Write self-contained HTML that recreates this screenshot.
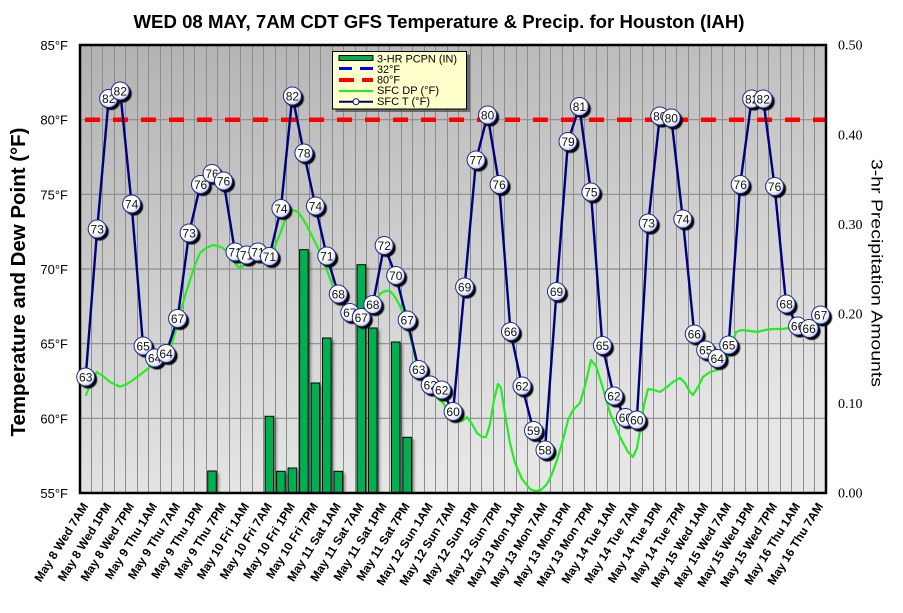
<!DOCTYPE html>
<html><head><meta charset="utf-8"><style>
html,body{margin:0;padding:0;background:#fff;}
svg{display:block;font-family:"Liberation Sans",Arial,sans-serif;}
</style></head><body>
<svg width="903" height="613" viewBox="0 0 903 613" xmlns="http://www.w3.org/2000/svg">
<defs>
<linearGradient id="pbg" x1="0" y1="0" x2="0.3" y2="1">
<stop offset="0" stop-color="#b2b2b2"/><stop offset="1" stop-color="#e6e6e6"/>
</linearGradient>
<radialGradient id="bl" cx="40%" cy="35%" r="65%">
<stop offset="0" stop-color="#ffffff"/><stop offset="0.65" stop-color="#ffffff"/><stop offset="1" stop-color="#c4cbea"/>
</radialGradient>
<filter id="blur" x="-50%" y="-50%" width="200%" height="200%"><feGaussianBlur stdDeviation="1.2"/></filter>
<filter id="blur2" x="-50%" y="-50%" width="200%" height="200%"><feGaussianBlur stdDeviation="0.5"/></filter>
<g id="ball"><circle cx="2.5" cy="2.5" r="9" fill="#000" filter="url(#blur2)"/><circle r="9" fill="url(#bl)" stroke="#1c2a8c" stroke-width="1"/></g>
</defs>

<!-- Title -->
<text x="439" y="28" text-anchor="middle" font-size="18" font-weight="bold" textLength="611" lengthAdjust="spacingAndGlyphs">WED 08 MAY, 7AM CDT GFS Temperature &amp; Precip. for Houston (IAH)</text>

<!-- plot background -->
<rect x="80" y="45" width="746" height="448" fill="url(#pbg)"/>

<!-- vertical grid -->
<path stroke="#8c8c8c" stroke-width="1" fill="none" d="M91.5 45V493M102.5 45V493M114.5 45V493M125.5 45V493M137.5 45V493M148.5 45V493M160.5 45V493M171.5 45V493M183.5 45V493M194.5 45V493M206.5 45V493M217.5 45V493M229.5 45V493M240.5 45V493M252.5 45V493M263.5 45V493M275.5 45V493M286.5 45V493M298.5 45V493M309.5 45V493M320.5 45V493M332.5 45V493M343.5 45V493M355.5 45V493M366.5 45V493M378.5 45V493M389.5 45V493M401.5 45V493M412.5 45V493M424.5 45V493M435.5 45V493M447.5 45V493M458.5 45V493M470.5 45V493M481.5 45V493M493.5 45V493M504.5 45V493M516.5 45V493M527.5 45V493M539.5 45V493M550.5 45V493M562.5 45V493M573.5 45V493M584.5 45V493M596.5 45V493M607.5 45V493M619.5 45V493M630.5 45V493M642.5 45V493M653.5 45V493M665.5 45V493M676.5 45V493M688.5 45V493M699.5 45V493M711.5 45V493M722.5 45V493M734.5 45V493M745.5 45V493M757.5 45V493M768.5 45V493M780.5 45V493M791.5 45V493M803.5 45V493M814.5 45V493"/>
<!-- horizontal grid -->
<path stroke="#8c8c8c" stroke-width="1.2" fill="none" d="M80 119.7H826M80 194.3H826M80 269H826M80 343.7H826M80 418.3H826"/>

<!-- precip bars shadows -->
<g fill="#000" opacity="0.35" filter="url(#blur)">
<rect x="210.7" y="473" width="8.6" height="20"/>
<rect x="268.1" y="418.3" width="8.6" height="74.7"/>
<rect x="279.6" y="473.3" width="8.6" height="19.7"/>
<rect x="291.1" y="470" width="8.6" height="23"/>
<rect x="302.6" y="251.7" width="8.6" height="241.3"/>
<rect x="314.1" y="385" width="8.6" height="108"/>
<rect x="325.5" y="340" width="8.6" height="153"/>
<rect x="337" y="473.3" width="8.6" height="19.7"/>
<rect x="360" y="266.7" width="8.6" height="226.3"/>
<rect x="371.5" y="330" width="8.6" height="163"/>
<rect x="394.4" y="344" width="8.6" height="149"/>
<rect x="405.9" y="439.3" width="8.6" height="53.7"/>
</g>
<!-- precip bars -->
<g fill="#00b050" stroke="#000" stroke-width="1">
<rect x="207.7" y="471" width="8.6" height="22"/>
<rect x="265.1" y="416.3" width="8.6" height="76.7"/>
<rect x="276.6" y="471.3" width="8.6" height="21.7"/>
<rect x="288.1" y="468" width="8.6" height="25"/>
<rect x="299.6" y="249.7" width="8.6" height="243.3"/>
<rect x="311.1" y="383" width="8.6" height="110"/>
<rect x="322.5" y="338" width="8.6" height="155"/>
<rect x="334" y="471.3" width="8.6" height="21.7"/>
<rect x="357" y="264.7" width="8.6" height="228.3"/>
<rect x="368.5" y="328" width="8.6" height="165"/>
<rect x="391.4" y="342" width="8.6" height="151"/>
<rect x="402.9" y="437.3" width="8.6" height="55.7"/>
</g>

<!-- 80F red dashed line -->
<line x1="85" y1="119.7" x2="826" y2="119.7" stroke="#ff0000" stroke-width="4.5" stroke-dasharray="15 13"/>

<!-- dew point -->
<polyline fill="none" stroke="#22ee22" stroke-width="2.2" stroke-linejoin="round" stroke-linecap="round" points="86,395 91,383 96.7,372 103,376 110,382 120,386.7 127,384 133,380 141,374 150,367 160,361.7 165,357 170,350 175,333 180,313 185,296 190,280 195,265 200,253 206,248 213,245 218,246 223,248 228,253 233,260 238,267 242,267 247,263 253,260 260,258 268,254 275,246 280,234 285,220 289,213 293,210 298,212 303,219 308,228 313,238 318,248 323,260 328,273 333,287 338,298 343,306 348,312 353,316 357,318 362,318 366,317 370,313 375,303 380,294 385,291 390,291 395,297 400,306 405,318 410,336 414,352 417,366 422,378 427,387 435,396 443,403 450,413 457,421 462,421 467,417 472,424 477,433 482,437 486,437 490,424 494,400 498,384 501,388 505,414 510,443 515,463 522,479 530,489 535,491 541,490 547,484 552,474 557,460 563,440 568,420 573,410 580,403 585,386 591,360 596,366 602,385 610,413 620,437 628,452 633,457 637,448 641,425 644,405 648,389 654,390 660,392 667,387 673,382 680,378 685,383 690,392 693,395 698,387 703,377 710,372 717,370 723,365 728,357 732,345 736,332 742,330 750,331 757,332 765,330 773,329 782,329 790,328 800,327 810,327 822,324"/>

<!-- temperature line -->
<polyline fill="none" stroke="#00007f" stroke-width="2.4" stroke-linejoin="round" points="85.7,377 97.2,229 108.7,98.5 120.2,91 131.6,204 143.1,346 154.6,358 166.1,353.5 177.6,318.5 189.1,233 200.5,184.5 212,173.5 223.5,181 235,252 246.5,255 257.9,252 269.4,256.5 280.9,208.5 292.4,96 303.9,153 315.4,206 326.8,256 338.3,294 349.8,312.5 361.3,317.5 372.8,304.5 384.2,245.5 395.7,275.5 407.2,320 418.7,369.5 430.2,385 441.7,390 453.1,411.5 464.6,287 476.1,160 487.6,115 499.1,184.5 510.5,331.5 522,386 533.5,430.5 545,450 556.5,291.5 568,141.5 579.4,106.5 590.9,192 602.4,345.5 613.9,396 625.4,417.5 636.8,420 648.3,223 659.8,116 671.3,118 682.8,219 694.3,334 705.7,350 717.2,358.5 728.7,345 740.2,184.5 751.7,99 763.2,99 774.6,186.5 786.1,304 797.6,326 809.1,328.5 820.6,315"/>

<!-- plot border -->
<rect x="80" y="45" width="746" height="448" fill="none" stroke="#000" stroke-width="2.5"/>

<!-- balls -->
<g font-size="12" text-anchor="middle" fill="#111">
<g transform="translate(85.7,377)"><use href="#ball"/><text y="4.3">63</text></g>
<g transform="translate(97.2,229)"><use href="#ball"/><text y="4.3">73</text></g>
<g transform="translate(108.7,98.5)"><use href="#ball"/><text y="4.3">82</text></g>
<g transform="translate(120.2,91)"><use href="#ball"/><text y="4.3">82</text></g>
<g transform="translate(131.6,204)"><use href="#ball"/><text y="4.3">74</text></g>
<g transform="translate(143.1,346)"><use href="#ball"/><text y="4.3">65</text></g>
<g transform="translate(154.6,358)"><use href="#ball"/><text y="4.3">64</text></g>
<g transform="translate(166.1,353.5)"><use href="#ball"/><text y="4.3">64</text></g>
<g transform="translate(177.6,318.5)"><use href="#ball"/><text y="4.3">67</text></g>
<g transform="translate(189.1,233)"><use href="#ball"/><text y="4.3">73</text></g>
<g transform="translate(200.5,184.5)"><use href="#ball"/><text y="4.3">76</text></g>
<g transform="translate(212,173.5)"><use href="#ball"/><text y="4.3">76</text></g>
<g transform="translate(223.5,181)"><use href="#ball"/><text y="4.3">76</text></g>
<g transform="translate(235,252)"><use href="#ball"/><text y="4.3">71</text></g>
<g transform="translate(246.5,255)"><use href="#ball"/><text y="4.3">71</text></g>
<g transform="translate(257.9,252)"><use href="#ball"/><text y="4.3">71</text></g>
<g transform="translate(269.4,256.5)"><use href="#ball"/><text y="4.3">71</text></g>
<g transform="translate(280.9,208.5)"><use href="#ball"/><text y="4.3">74</text></g>
<g transform="translate(292.4,96)"><use href="#ball"/><text y="4.3">82</text></g>
<g transform="translate(303.9,153)"><use href="#ball"/><text y="4.3">78</text></g>
<g transform="translate(315.4,206)"><use href="#ball"/><text y="4.3">74</text></g>
<g transform="translate(326.8,256)"><use href="#ball"/><text y="4.3">71</text></g>
<g transform="translate(338.3,294)"><use href="#ball"/><text y="4.3">68</text></g>
<g transform="translate(349.8,312.5)"><use href="#ball"/><text y="4.3">67</text></g>
<g transform="translate(361.3,317.5)"><use href="#ball"/><text y="4.3">67</text></g>
<g transform="translate(372.8,304.5)"><use href="#ball"/><text y="4.3">68</text></g>
<g transform="translate(384.2,245.5)"><use href="#ball"/><text y="4.3">72</text></g>
<g transform="translate(395.7,275.5)"><use href="#ball"/><text y="4.3">70</text></g>
<g transform="translate(407.2,320)"><use href="#ball"/><text y="4.3">67</text></g>
<g transform="translate(418.7,369.5)"><use href="#ball"/><text y="4.3">63</text></g>
<g transform="translate(430.2,385)"><use href="#ball"/><text y="4.3">62</text></g>
<g transform="translate(441.7,390)"><use href="#ball"/><text y="4.3">62</text></g>
<g transform="translate(453.1,411.5)"><use href="#ball"/><text y="4.3">60</text></g>
<g transform="translate(464.6,287)"><use href="#ball"/><text y="4.3">69</text></g>
<g transform="translate(476.1,160)"><use href="#ball"/><text y="4.3">77</text></g>
<g transform="translate(487.6,115)"><use href="#ball"/><text y="4.3">80</text></g>
<g transform="translate(499.1,184.5)"><use href="#ball"/><text y="4.3">76</text></g>
<g transform="translate(510.5,331.5)"><use href="#ball"/><text y="4.3">66</text></g>
<g transform="translate(522,386)"><use href="#ball"/><text y="4.3">62</text></g>
<g transform="translate(533.5,430.5)"><use href="#ball"/><text y="4.3">59</text></g>
<g transform="translate(545,450)"><use href="#ball"/><text y="4.3">58</text></g>
<g transform="translate(556.5,291.5)"><use href="#ball"/><text y="4.3">69</text></g>
<g transform="translate(568,141.5)"><use href="#ball"/><text y="4.3">79</text></g>
<g transform="translate(579.4,106.5)"><use href="#ball"/><text y="4.3">81</text></g>
<g transform="translate(590.9,192)"><use href="#ball"/><text y="4.3">75</text></g>
<g transform="translate(602.4,345.5)"><use href="#ball"/><text y="4.3">65</text></g>
<g transform="translate(613.9,396)"><use href="#ball"/><text y="4.3">62</text></g>
<g transform="translate(625.4,417.5)"><use href="#ball"/><text y="4.3">60</text></g>
<g transform="translate(636.8,420)"><use href="#ball"/><text y="4.3">60</text></g>
<g transform="translate(648.3,223)"><use href="#ball"/><text y="4.3">73</text></g>
<g transform="translate(659.8,116)"><use href="#ball"/><text y="4.3">80</text></g>
<g transform="translate(671.3,118)"><use href="#ball"/><text y="4.3">80</text></g>
<g transform="translate(682.8,219)"><use href="#ball"/><text y="4.3">74</text></g>
<g transform="translate(694.3,334)"><use href="#ball"/><text y="4.3">66</text></g>
<g transform="translate(705.7,350)"><use href="#ball"/><text y="4.3">65</text></g>
<g transform="translate(717.2,358.5)"><use href="#ball"/><text y="4.3">64</text></g>
<g transform="translate(728.7,345)"><use href="#ball"/><text y="4.3">65</text></g>
<g transform="translate(740.2,184.5)"><use href="#ball"/><text y="4.3">76</text></g>
<g transform="translate(751.7,99)"><use href="#ball"/><text y="4.3">82</text></g>
<g transform="translate(763.2,99)"><use href="#ball"/><text y="4.3">82</text></g>
<g transform="translate(774.6,186.5)"><use href="#ball"/><text y="4.3">76</text></g>
<g transform="translate(786.1,304)"><use href="#ball"/><text y="4.3">68</text></g>
<g transform="translate(797.6,326)"><use href="#ball"/><text y="4.3">66</text></g>
<g transform="translate(809.1,328.5)"><use href="#ball"/><text y="4.3">66</text></g>
<g transform="translate(820.6,315)"><use href="#ball"/><text y="4.3">67</text></g>
</g>

<!-- legend -->
<rect x="335.5" y="54.5" width="134.5" height="57.5" fill="#444" opacity="0.7"/>
<rect x="332.5" y="51.5" width="134" height="57.5" fill="#ffffcc" stroke="#000" stroke-width="1"/>
<rect x="339" y="55.5" width="34" height="5" fill="#00b050" stroke="#000" stroke-width="1"/>
<path d="M339 68.5H352M360 68.5H373" stroke="#0000ff" stroke-width="3"/>
<path d="M339 80H354M362 80H373" stroke="#ff0000" stroke-width="4"/>
<path d="M339 91H373" stroke="#22ee22" stroke-width="2"/>
<path d="M339 101.7H373" stroke="#00007f" stroke-width="2"/>
<circle cx="356" cy="101.7" r="3" fill="#fff" stroke="#00007f" stroke-width="1"/>
<g font-size="11" fill="#000">
<text x="377" y="62.5" textLength="80" lengthAdjust="spacingAndGlyphs">3-HR PCPN  (IN)</text>
<text x="377" y="73.2" textLength="23" lengthAdjust="spacingAndGlyphs">32°F</text>
<text x="377" y="83.6" textLength="23" lengthAdjust="spacingAndGlyphs">80°F</text>
<text x="377" y="94.2" textLength="62" lengthAdjust="spacingAndGlyphs">SFC DP (°F)</text>
<text x="377" y="105.2" textLength="53" lengthAdjust="spacingAndGlyphs">SFC T (°F)</text>
</g>

<!-- left axis labels -->
<g font-size="13" text-anchor="end" fill="#000">
<text x="68" y="50">85°F</text>
<text x="68" y="124.7">80°F</text>
<text x="68" y="199.3">75°F</text>
<text x="68" y="274">70°F</text>
<text x="68" y="348.7">65°F</text>
<text x="68" y="423.3">60°F</text>
<text x="68" y="498">55°F</text>
</g>
<!-- right axis labels -->
<g font-size="14" font-family="'Liberation Serif',serif" fill="#000">
<text x="838" y="49.7">0.50</text>
<text x="838" y="139.3">0.40</text>
<text x="838" y="228.9">0.30</text>
<text x="838" y="318.5">0.20</text>
<text x="838" y="408.1">0.10</text>
<text x="838" y="497.7">0.00</text>
</g>

<!-- axis titles -->
<text transform="translate(25,282) rotate(-90)" text-anchor="middle" font-size="20" font-weight="bold" textLength="309" lengthAdjust="spacingAndGlyphs">Temperature and Dew Point (°F)</text>
<text transform="translate(871.5,273) rotate(90)" text-anchor="middle" font-size="16" textLength="228" lengthAdjust="spacingAndGlyphs">3-hr Precipitation Amounts</text>

<!-- x labels -->
<g font-size="12" font-weight="bold" text-anchor="end" fill="#000">
<text transform="translate(88.7,506) rotate(-58)">May 8 Wed 7AM</text>
<text transform="translate(111.7,506) rotate(-58)">May 8 Wed 1PM</text>
<text transform="translate(134.6,506) rotate(-58)">May 8 Wed 7PM</text>
<text transform="translate(157.6,506) rotate(-58)">May 9 Thu 1AM</text>
<text transform="translate(180.6,506) rotate(-58)">May 9 Thu 7AM</text>
<text transform="translate(203.5,506) rotate(-58)">May 9 Thu 1PM</text>
<text transform="translate(226.5,506) rotate(-58)">May 9 Thu 7PM</text>
<text transform="translate(249.5,506) rotate(-58)">May 10 Fri 1AM</text>
<text transform="translate(272.4,506) rotate(-58)">May 10 Fri 7AM</text>
<text transform="translate(295.4,506) rotate(-58)">May 10 Fri 1PM</text>
<text transform="translate(318.4,506) rotate(-58)">May 10 Fri 7PM</text>
<text transform="translate(341.3,506) rotate(-58)">May 11 Sat 1AM</text>
<text transform="translate(364.3,506) rotate(-58)">May 11 Sat 7AM</text>
<text transform="translate(387.2,506) rotate(-58)">May 11 Sat 1PM</text>
<text transform="translate(410.2,506) rotate(-58)">May 11 Sat 7PM</text>
<text transform="translate(433.2,506) rotate(-58)">May 12 Sun 1AM</text>
<text transform="translate(456.1,506) rotate(-58)">May 12 Sun 7AM</text>
<text transform="translate(479.1,506) rotate(-58)">May 12 Sun 1PM</text>
<text transform="translate(502.1,506) rotate(-58)">May 12 Sun 7PM</text>
<text transform="translate(525,506) rotate(-58)">May 13 Mon 1AM</text>
<text transform="translate(548,506) rotate(-58)">May 13 Mon 7AM</text>
<text transform="translate(571,506) rotate(-58)">May 13 Mon 1PM</text>
<text transform="translate(593.9,506) rotate(-58)">May 13 Mon 7PM</text>
<text transform="translate(616.9,506) rotate(-58)">May 14 Tue 1AM</text>
<text transform="translate(639.8,506) rotate(-58)">May 14 Tue 7AM</text>
<text transform="translate(662.8,506) rotate(-58)">May 14 Tue 1PM</text>
<text transform="translate(685.8,506) rotate(-58)">May 14 Tue 7PM</text>
<text transform="translate(708.7,506) rotate(-58)">May 15 Wed 1AM</text>
<text transform="translate(731.7,506) rotate(-58)">May 15 Wed 7AM</text>
<text transform="translate(754.7,506) rotate(-58)">May 15 Wed 1PM</text>
<text transform="translate(777.6,506) rotate(-58)">May 15 Wed 7PM</text>
<text transform="translate(800.6,506) rotate(-58)">May 16 Thu  1AM</text>
<text transform="translate(823.6,506) rotate(-58)">May 16 Thu  7AM</text>
</g>
</svg>
</body></html>
